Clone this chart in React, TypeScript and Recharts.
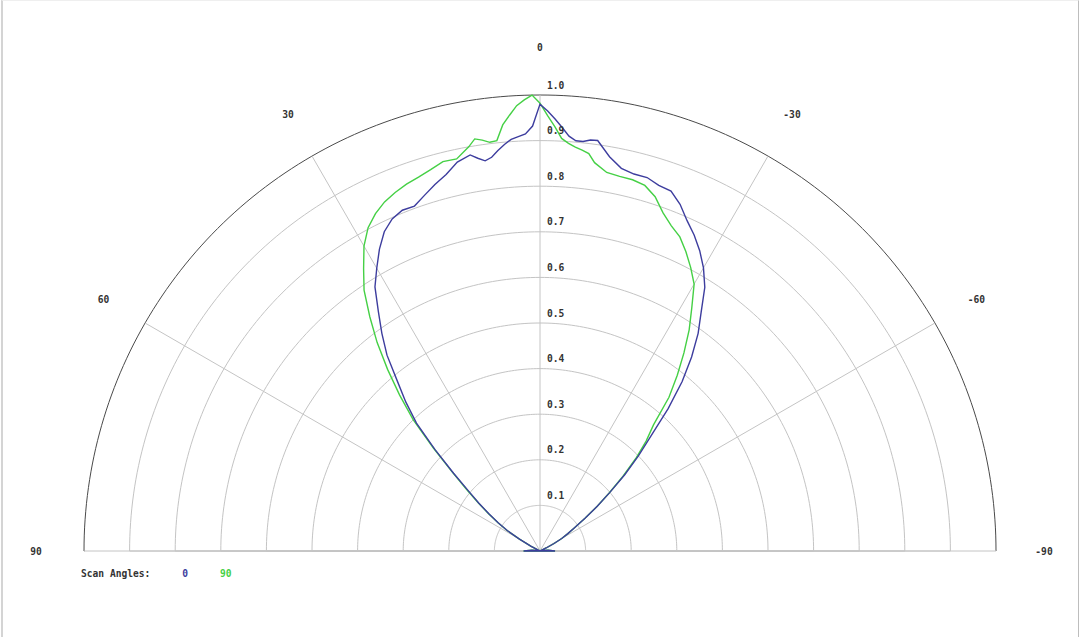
import React from 'react';
import { RadarChart, Radar, PolarGrid, PolarAngleAxis, PolarRadiusAxis, Legend } from 'recharts';

// Scan angle (degrees, positive = left) at which the two patterns are read
const scanAngles = [
  -90, -85, -80, -75, -70, -66, -64, -62, -60, -58, -56, -54, -52, -50, -48, -46, -44, -42, -40, -38, -36, -34, -32,
  -30, -28, -26, -24, -22, -20, -18, -16, -14, -12, -10, -8, -7, -6, -5, -4, -3, -2, -1, 0,
  1, 2, 3, 4, 5, 6, 7, 8, 9, 10, 12, 14, 16, 18, 20, 22, 24, 26, 28, 30,
  32, 34, 36, 38, 40, 42, 44, 46, 48, 50, 52, 54, 56, 58, 60, 62, 64, 66, 70, 75, 80, 85, 90,
];

// Normalised pattern for scan angle 0
const scan0 = [
  0.033, 0.018, 0.008, 0.004, 0.002, 0.002, 0.015, 0.035, 0.055, 0.072, 0.092, 0.122, 0.16, 0.2, 0.25, 0.3, 0.35, 0.42, 0.485, 0.54, 0.59, 0.632, 0.682,
  0.717, 0.746, 0.771, 0.793, 0.82, 0.84, 0.843, 0.852, 0.852, 0.858, 0.878, 0.909, 0.908, 0.903, 0.903, 0.912, 0.93, 0.948, 0.965, 0.98,
  0.932, 0.915, 0.91, 0.905, 0.895, 0.883, 0.87, 0.864, 0.872, 0.882, 0.872, 0.851, 0.836, 0.82, 0.805, 0.806, 0.797, 0.779, 0.75, 0.716,
  0.683, 0.634, 0.59, 0.545, 0.487, 0.44, 0.39, 0.32, 0.255, 0.205, 0.17, 0.138, 0.11, 0.084, 0.052, 0.022, 0.004, 0.0, 0.002, 0.004, 0.008, 0.018, 0.036,
];

// Normalised pattern for scan angle 90
const scan90 = [
  0.033, 0.018, 0.008, 0.004, 0.002, 0.002, 0.015, 0.035, 0.055, 0.072, 0.092, 0.122, 0.158, 0.198, 0.245, 0.292, 0.335, 0.372, 0.44, 0.489, 0.537, 0.585, 0.628,
  0.676, 0.704, 0.73, 0.754, 0.769, 0.789, 0.817, 0.834, 0.839, 0.84, 0.843, 0.86, 0.878, 0.884, 0.889, 0.896, 0.906, 0.931, 0.955, 0.982,
  1.0, 0.99, 0.978, 0.958, 0.938, 0.905, 0.903, 0.91, 0.915, 0.9, 0.879, 0.88, 0.87, 0.862, 0.856, 0.848, 0.838, 0.823, 0.803, 0.772,
  0.73, 0.69, 0.635, 0.58, 0.52, 0.46, 0.4, 0.325, 0.26, 0.21, 0.172, 0.14, 0.111, 0.085, 0.053, 0.023, 0.004, 0.0, 0.002, 0.004, 0.008, 0.018, 0.036,
];

const radiusTicks = [0.1, 0.2, 0.3, 0.4, 0.5, 0.6, 0.7, 0.8, 0.9, 1.0];
const angleTicks = [-90, -60, -30, 0, 30, 60, 90];
const seriesNames = ['0', '90'];
const seriesKeys = ['s0', 's90'];
const seriesColors = ['#3d3d9e', '#45d045'];
const legendTitle = 'Scan Angles:';

const data = scanAngles.map((a, i) => ({ angle: a, s0: scan0[i], s90: scan90[i] }));

const FONT = '"DejaVu Sans Mono", monospace';
const arcGridAngles = Array.from({ length: 181 }, (_, i) => i);

const css = `
.recharts-polar-grid-concentric > path:last-child { stroke: #4a4a4a; stroke-dasharray: 1433 2000; }
`;

const AngleTick = (props: any) => {
  const { x, y, payload } = props;
  return (
    <text x={x} y={y} textAnchor="middle" dominantBaseline="central" fontFamily={FONT} fontSize={9.6} fontWeight="bold" fill="#333">
      {String(payload.value)}
    </text>
  );
};

const RadiusTick = (props: any) => {
  const { x, y, payload } = props;
  return (
    <text x={x + 7} y={y - 10} textAnchor="start" dominantBaseline="central" fontFamily={FONT} fontSize={9.6} fontWeight="bold" fill="#333">
      {Number(payload.value).toFixed(1)}
    </text>
  );
};

const renderLegend = (props: any) => {
  const items = [...(props.payload || [])].sort(
    (a: any, b: any) => seriesNames.indexOf(String(a.value)) - seriesNames.indexOf(String(b.value))
  );
  return (
    <div style={{ fontFamily: FONT, fontSize: 9.6, fontWeight: 'bold', color: '#333', whiteSpace: 'nowrap', lineHeight: '12px' }}>
      <span>{legendTitle}</span>
      {items.map((it: any) => (
        <span key={String(it.value)} style={{ color: it.color, marginLeft: 32 }}>
          {it.value}
        </span>
      ))}
    </div>
  );
};

export default function App() {
  return (
    <div style={{ position: 'absolute', left: 0, top: 0, width: 1080, height: 637, background: '#fff', overflow: 'hidden' }}>
      <style>{css}</style>
      <div style={{ position: 'absolute', left: 1, top: 0, width: 1075, height: 640, borderLeft: '2px solid #d4d4d4', borderRight: '1px solid #bdbdbd', borderTop: '1px solid #efefef' }} />
      <RadarChart
        width={1080}
        height={637}
        data={data}
        cx={540}
        cy={551}
        innerRadius={0}
        outerRadius={456}
        startAngle={0}
        endAngle={180}
        margin={{ top: 0, right: 0, bottom: 0, left: 0 }}
      >
        <PolarGrid gridType="polygon" radialLines={false} polarAngles={arcGridAngles} stroke="#c4c4c4" strokeWidth={1} />
        <PolarGrid gridType="polygon" polarRadius={[]} stroke="#c4c4c4" strokeWidth={1} />
        <PolarAngleAxis
          dataKey="angle"
          type="number"
          domain={[-90, 90]}
          ticks={angleTicks}
          tickLine={false}
          axisLine={false}
          tickSize={48}
          tick={<AngleTick />}
        />
        <PolarRadiusAxis
          angle={90}
          domain={[0, 1]}
          ticks={radiusTicks}
          axisLine={false}
          tick={<RadiusTick />}
        />
        <Radar
          dataKey={seriesKeys[1]}
          name={seriesNames[1]}
          stroke={seriesColors[1]}
          strokeWidth={1.4}
          fill="none"
          fillOpacity={0}
          dot={false}
          isAnimationActive={false}
        />
        <Radar
          dataKey={seriesKeys[0]}
          name={seriesNames[0]}
          stroke={seriesColors[0]}
          strokeWidth={1.4}
          fill="none"
          fillOpacity={0}
          dot={false}
          isAnimationActive={false}
        />
        <Legend
          content={renderLegend}
          wrapperStyle={{ position: 'absolute', left: 81, top: 568, bottom: 'auto', width: 'auto' }}
        />
      </RadarChart>
    </div>
  );
}
